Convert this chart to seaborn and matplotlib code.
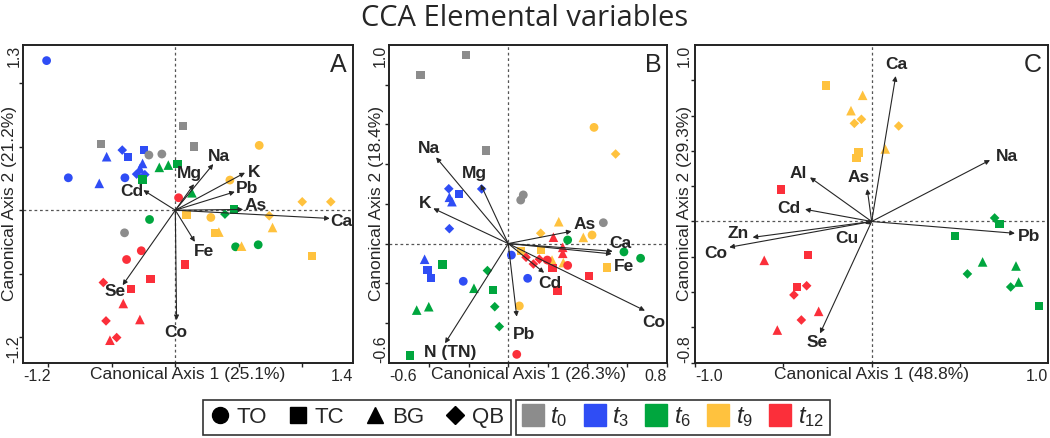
import numpy as np
import pandas as pd
import matplotlib
matplotlib.use("Agg")
import matplotlib.pyplot as plt
import seaborn as sns
from matplotlib.lines import Line2D

# ── 1. Data ────────────────────────────────────────────────────────────────
times = ["t0", "t3", "t6", "t9", "t12"]
time_labels = ["$t_{0}$", "$t_{3}$", "$t_{6}$", "$t_{9}$", "$t_{12}$"]
time_colors = ["#8c8c8c", "#2f4df5", "#00a63e", "#ffc23e", "#fb2f3a"]
sites = ["TO", "TC", "BG", "QB"]
site_markers = ["o", "s", "^", "D"]

# Panel A samples
a_time = (["t3"] * 12 + ["t6"] * 10 + ["t0"] * 6 + ["t12"] * 12 + ["t9"] * 12)
a_site = ["TO", "TO", "TO", "BG", "BG", "QB", "TC", "TC", "BG", "BG", "QB", "QB",
          "TC", "BG", "BG", "TC", "BG", "TO", "QB", "TC", "TO", "TO",
          "TC", "TO", "TO", "TC", "TC", "TO",
          "TO", "TO", "TO", "TC", "TC", "TC", "QB", "BG", "BG", "QB", "BG", "QB",
          "TO", "TO", "TC", "TO", "TC", "BG", "BG", "QB", "BG", "QB", "QB", "TC"]
a_x = [-1.014, -0.843, -0.397, -0.599, -0.541, -0.418, -0.371, -0.247, -0.258, -0.279, -0.305, -0.240,
       -0.258, -0.126, -0.055, 0.018, 0.131, -0.203, 0.391, 0.464, 0.475, 0.653,
       -0.588, -0.208, -0.106, 0.062, 0.149, -0.400,
       0.026, -0.268, -0.384, 0.076, -0.195, -0.350, -0.567, -0.410, -0.279, -0.546, -0.515, -0.462,
       0.661, 0.430, 0.089, 0.280, 0.312, 0.343, 0.522, 0.740, 0.766, 1.000, 1.225, 1.076]
a_y = [1.177, 0.255, 0.255, 0.211, 0.421, 0.473, 0.421, 0.473, 0.368, 0.329, 0.284, 0.280,
       0.242, 0.337, 0.355, 0.363, 0.137, -0.073, -0.031, 0.006, -0.288, -0.272,
       0.520, 0.434, 0.442, 0.662, 0.500, -0.178,
       0.098, -0.319, -0.388, -0.427, -0.540, -0.619, -0.569, -0.734, -0.860, -0.871, -1.023, -1.002,
       0.510, 0.237, -0.036, -0.057, -0.178, -0.172, -0.283, -0.044, -0.136, 0.066, 0.066, -0.361]
a_vars = ["Na", "Mg", "K", "Pb", "As", "Ca", "Cd", "Fe", "Se", "Co"]
a_vx = [0.299, 0.147, 0.549, 0.469, 0.535, 1.217, -0.252, 0.154, -0.415, 0.010]
a_vy = [0.363, 0.205, 0.295, 0.145, 0.006, -0.065, 0.158, -0.249, -0.590, -0.865]
a_lx = [0.346, 0.115, 0.619, 0.566, 0.635, 1.309, -0.344, 0.225, -0.476, 0.002]
a_ly = [0.421, 0.289, 0.295, 0.168, 0.038, -0.091, 0.145, -0.327, -0.642, -0.965]

# Panel B samples
b_time = (["t0"] * 6 + ["t3"] * 12 + ["t6"] * 12 + ["t9"] * 12 + ["t12"] * 12)
b_site = ["TC", "TC", "TC", "TO", "TO", "TO",
          "QB", "TC", "BG", "BG", "QB", "QB", "BG", "TC", "TC", "TO", "TO", "TO",
          "TC", "QB", "BG", "TC", "BG", "BG", "QB", "QB", "TC", "TO", "TO", "TO",
          "TO", "QB", "BG", "QB", "BG", "TO", "TC", "TC", "BG", "BG", "TC", "TO",
          "BG", "BG", "BG", "QB", "QB", "QB", "TO", "TC", "TO", "TC", "TC", "TO"]
b_x = [-0.213, -0.442, -0.112, 0.076, 0.063, 0.480,
       -0.300, -0.247, -0.297, -0.284, -0.134, -0.297, -0.422, -0.408, -0.391, -0.227, 0.016, 0.098,
       -0.331, -0.105, -0.173, -0.078, -0.401, -0.462, -0.068, -0.045, -0.496, 0.300, 0.584, 0.668,
       0.433, 0.542, 0.255, 0.164, 0.379, 0.423, 0.063, 0.164, 0.221, 0.278, 0.500, 0.056,
       0.228, 0.275, 0.275, 0.090, 0.127, 0.157, 0.197, 0.224, 0.300, 0.406, 0.248, 0.043]
b_y = [0.950, 0.849, 0.468, 0.245, 0.219, 0.105,
       0.276, 0.250, 0.233, 0.211, 0.275, 0.075, -0.079, -0.133, -0.172, -0.190, -0.058, -0.175,
       -0.106, -0.136, -0.225, -0.234, -0.318, -0.335, -0.318, -0.418, -0.563, 0.018, -0.042, -0.074,
       0.585, 0.451, 0.110, 0.052, 0.031, 0.043, -0.039, -0.032, -0.083, -0.096, -0.121, -0.314,
       0.032, -0.019, -0.049, -0.069, -0.103, -0.079, -0.083, -0.123, -0.110, -0.163, -0.237, -0.558]
b_vars = ["Na", "Mg", "K", "As", "Ca", "Fe", "Cd", "Co", "Pb", "N (TN)"]
b_vx = [-0.364, -0.139, -0.378, 0.320, 0.527, 0.522, 0.181, 0.690, 0.043, -0.319]
b_vy = [0.434, 0.298, 0.177, 0.062, -0.039, -0.052, -0.147, -0.338, -0.368, -0.502]
b_lx = [-0.398, -0.173, -0.420, 0.388, 0.568, 0.584, 0.211, 0.732, 0.080, -0.294]
b_ly = [0.478, 0.354, 0.203, 0.097, 0.001, -0.113, -0.200, -0.398, -0.460, -0.549]

# Panel C samples
c_time = ["t9"] * 9 + ["t12"] * 9 + ["t6"] * 9
c_site = ["TC", "BG", "BG", "QB", "QB", "QB", "BG", "TC", "TC",
          "TC", "TC", "BG", "TC", "QB", "QB", "BG", "QB", "BG",
          "QB", "TC", "TC", "BG", "QB", "BG", "BG", "QB", "TC"]
c_x = [-0.260, -0.051, -0.117, -0.058, -0.098, 0.153, 0.077, -0.075, -0.085,
       -0.515, -0.360, -0.608, -0.421, -0.368, -0.440, -0.300, -0.398, -0.534,
       0.696, 0.723, 0.472, 0.628, 0.542, 0.817, 0.832, 0.787, 0.947]
c_y = [0.770, 0.715, 0.628, 0.579, 0.556, 0.541, 0.411, 0.390, 0.358,
       0.182, -0.188, -0.220, -0.371, -0.364, -0.416, -0.509, -0.558, -0.615,
       0.020, -0.014, -0.082, -0.229, -0.297, -0.252, -0.343, -0.371, -0.479]
c_vars = ["Ca", "Na", "Al", "As", "Cd", "Zn", "Co", "Cu", "Pb", "Se"]
c_vx = [0.136, 0.670, -0.349, -0.025, -0.377, -0.674, -0.806, -0.038, 0.811, -0.292]
c_vy = [0.824, 0.348, 0.250, 0.184, 0.069, -0.090, -0.146, -0.013, -0.067, -0.634]
c_lx = [0.138, 0.768, -0.415, -0.075, -0.468, -0.755, -0.881, -0.142, 0.892, -0.311]
c_ly = [0.892, 0.371, 0.273, 0.250, 0.075, -0.067, -0.180, -0.095, -0.086, -0.686]

# ── 2. Style ───────────────────────────────────────────────────────────────
sns.set_style("white")
plt.rcParams["font.family"] = ["Liberation Sans", "DejaVu Sans"]
plt.rcParams["mathtext.fontset"] = "custom"
plt.rcParams["mathtext.it"] = "Liberation Sans:italic"
plt.rcParams["mathtext.rm"] = "Liberation Sans"

palette = dict(zip(times, time_colors))
markers = dict(zip(sites, site_markers))
marker_area = {"TO": 40, "TC": 36, "BG": 48, "QB": 24}


def draw_panel(ax, x, y, site, time, vars_, vx, vy, lx, ly, xlim, ylim,
               xstep, ystep, letter, xlab, ylab, ylab_x, ytick_dx):
    df = pd.DataFrame({"x": x, "y": y, "site": site, "time": time})
    ax.axhline(0, color="#555555", lw=0.9, ls=(0, (2.2, 2.2)), zorder=1)
    ax.axvline(0, color="#555555", lw=0.9, ls=(0, (2.2, 2.2)), zorder=1)
    sns.scatterplot(data=df, x="x", y="y", hue="time", style="site",
                    size="site", sizes=marker_area,
                    palette=palette, markers=markers, hue_order=times,
                    style_order=sites, linewidth=0, legend=False,
                    ax=ax, zorder=3)
    for name, tx, ty, px, py in zip(vars_, vx, vy, lx, ly):
        ax.annotate("", xy=(tx, ty), xytext=(0, 0),
                    arrowprops=dict(arrowstyle="-|>", color="#262626", lw=0.8,
                                    mutation_scale=7, shrinkA=0, shrinkB=0),
                    zorder=4)
        ax.text(px, py, name, ha="center", va="center", fontsize=12.5,
                fontweight="bold", zorder=5)
    ax.set_xlim(xlim)
    ax.set_ylim(ylim)
    ax.set_xticks(np.arange(np.ceil(xlim[0] / xstep) * xstep, xlim[1], xstep))
    ax.set_yticks(np.arange(np.ceil(ylim[0] / ystep) * ystep, ylim[1], ystep))
    ax.set_xticklabels([])
    ax.set_yticklabels([])
    ax.tick_params(direction="out", length=3, width=1, colors="#222222",
                   bottom=True, left=True)
    for sp in ax.spines.values():
        sp.set_color("#222222")
        sp.set_linewidth(1.4)
    # Axis extremes as labels (Canoco style)
    fmt = "{:.1f}"
    ax.annotate(fmt.format(xlim[0]), xy=(0, 0), xycoords="axes fraction",
                xytext=(0, -4.5), textcoords="offset points", ha="left", va="top",
                fontsize=11.5)
    ax.annotate(fmt.format(xlim[1]), xy=(1, 0), xycoords="axes fraction",
                xytext=(0, -4.5), textcoords="offset points", ha="right", va="top",
                fontsize=11.5)
    ax.annotate(fmt.format(ylim[0]), xy=(0, 0), xycoords="axes fraction",
                xytext=(ytick_dx, 0), textcoords="offset points", ha="right",
                va="bottom", rotation=90, fontsize=11.5)
    ax.annotate(fmt.format(ylim[1]), xy=(0, 1), xycoords="axes fraction",
                xytext=(ytick_dx, 0), textcoords="offset points", ha="right",
                va="top", rotation=90, fontsize=11.5)
    ax.set_xlabel(xlab, fontsize=12.5, va="center")
    ax.set_ylabel(ylab, fontsize=12.5, va="center")
    ax.xaxis.set_label_coords(0.5, -0.038)
    ax.yaxis.set_label_coords(ylab_x, 0.5)
    ax.text(0.982, 0.975, letter, transform=ax.transAxes, ha="right", va="top",
            fontsize=18)


# ── 3. Figure ──────────────────────────────────────────────────────────────
fig = plt.figure(figsize=(10.5, 4.38), dpi=100)
axA = fig.add_axes([0.0219, 0.1719, 0.3143, 0.7254])
axB = fig.add_axes([0.3708, 0.1719, 0.2642, 0.7254])
axC = fig.add_axes([0.6619, 0.1719, 0.3365, 0.7254])

draw_panel(axA, a_x, a_y, a_site, a_time, a_vars, a_vx, a_vy, a_lx, a_ly,
           (-1.2, 1.4), (-1.2, 1.3), 0.5, 0.5, "A",
           "Canonical Axis 1 (25.1%)", "Canonical Axis 2 (21.2%)", -0.042, -1)
draw_panel(axB, b_x, b_y, b_site, b_time, b_vars, b_vx, b_vy, b_lx, b_ly,
           (-0.6, 0.8), (-0.6, 1.0), 0.2, 0.2, "B",
           "Canonical Axis 1 (26.3%)", "Canonical Axis 2 (18.4%)", -0.047, -1)
draw_panel(axC, c_x, c_y, c_site, c_time, c_vars, c_vx, c_vy, c_lx, c_ly,
           (-1.0, 1.0), (-0.8, 1.0), 0.5, 0.2, "C",
           "Canonical Axis 1 (48.8%)", "Canonical Axis 2 (29.3%)", -0.031, -2)

fig.text(0.5, 0.9406, "CCA Elemental variables", ha="center", va="baseline",
         fontsize=21, family=["Open Sans", "DejaVu Sans"])

# ── 4. Legends ─────────────────────────────────────────────────────────────
legend_ms = {"o": 11.5, "s": 11, "^": 12, "D": 9.5}
site_handles = [Line2D([], [], marker=m, color="black", linestyle="",
                       markersize=legend_ms[m]) for m in site_markers]
leg1 = fig.legend(site_handles, sites, loc="center", ncol=4,
                  bbox_to_anchor=(0.34, 0.047), fontsize=16, frameon=True,
                  fancybox=False, edgecolor="black", handlelength=0.9,
                  handletextpad=0.3, columnspacing=0.95, borderpad=0.3)
leg1.get_frame().set_linewidth(1.2)

time_handles = [Line2D([], [], marker="s", color=c, linestyle="", markersize=15.5)
                for c in time_colors]
leg2 = fig.legend(time_handles, time_labels, loc="center", ncol=5,
                  bbox_to_anchor=(0.641, 0.047), fontsize=17, frameon=True,
                  fancybox=False, edgecolor="black", handlelength=0.9,
                  handletextpad=0.3, columnspacing=0.7, borderpad=0.25)
leg2.get_frame().set_linewidth(1.2)

plt.savefig("out.png", dpi=100)
plt.close()
